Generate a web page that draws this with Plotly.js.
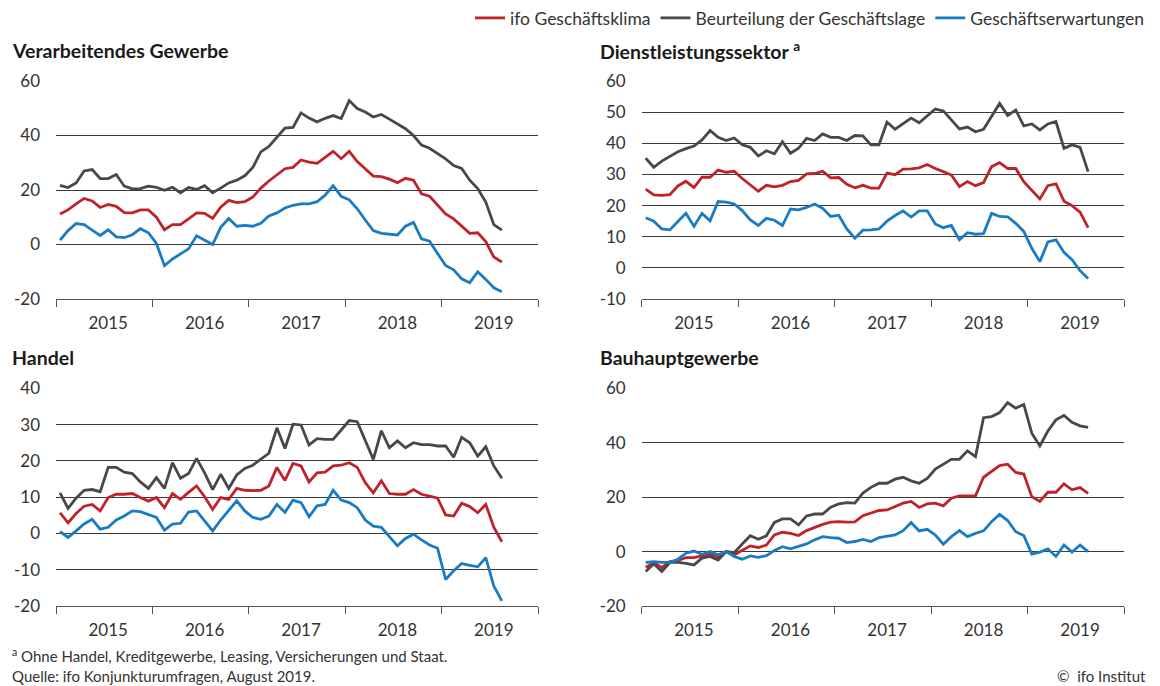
<!DOCTYPE html>
<html>
<head>
<meta charset="utf-8">
<script src="https://cdn.plot.ly/plotly-3.0.1.min.js"></script>
<style>
  html, body { margin: 0; padding: 0; background: #fff; }
  #chart { width: 1160px; height: 686px; }
</style>
</head>
<body>
<div id="chart"></div>
<script>
// ---- Data (monthly, Jan 2015 – Aug 2019) ----
const seriesNames = ['ifo Geschäftsklima', 'Beurteilung der Geschäftslage', 'Geschäftserwartungen'];
const panelTitles = ['Verarbeitendes Gewerbe', 'Dienstleistungssektor <sup>a</sup>', 'Handel', 'Bauhauptgewerbe'];
const yearLabels = ['2015', '2016', '2017', '2018', '2019'];

// Verarbeitendes Gewerbe
const vgKlima = [11.2,12.7,14.9,16.9,16,13.6,14.7,14,11.7,11.6, 12.7,12.7,10,5.4,7.3,7.3,9.4,11.6,11.4,9.6, 13.7,16.2,15.4,15.7,17.4,20.7,23.3,25.6,27.8,28.3, 31,30.2,29.8,32,34.2,31.5,34.2,30.4,27.9,25.1, 24.9,24,22.7,24.3,23.6,18.6,17.7,14.6,11.2,9.4, 6.7,4.1,4.3,1.1,-4.6,-6.4];
const vgLage = [21.7,20.9,22.6,27,27.5,24.2,24.2,25.7,21.4,20.4, 20.5,21.4,21,19.9,21,19,20.9,20.2,21.6,19, 20.7,22.6,23.6,25.2,28.3,34,36,39.4,42.7,43, 48.3,46.4,45,46.3,47.3,46.2,52.8,49.9,48.6,46.8, 47.7,46,44.2,42.5,40,36.5,35.3,33.5,31.4,29, 27.9,23.6,20.5,15.6,7.3,5.3];
const vgErw = [1.6,5.1,7.7,7.3,5.3,3.3,5.4,2.8,2.5,3.6, 5.8,4.3,0.4,-7.8,-5.3,-3.3,-1.6,3.2,1.6,0, 6.3,9.5,6.7,7,6.7,7.8,10.5,11.6,13.4,14.4, 14.9,14.9,15.7,18.1,21.6,17.7,16.4,13.1,9,5.1, 4.1,3.8,3.5,6.7,8.1,2.1,1.2,-3.3,-7.7,-9.3, -12.6,-14,-10,-12.8,-15.9,-17.3];

// Dienstleistungssektor
const dlKlima = [25.3,23.4,23.3,23.5,26.3,27.8,25.8,29.1,29.1,31.4, 30.7,31,28.7,26.6,24.6,26.5,26,26.5,27.7,28.1, 30.2,30.3,31,28.9,29,26.8,25.7,26.5,25.6,25.6, 30.4,29.9,31.7,31.8,32.1,33.2,31.9,30.9,29.8,26.1, 27.7,26.4,27.4,32.5,33.8,31.9,31.9,27.7,25,22.1, 26.4,27,21.4,20,17.9,12.9];
const dlLage = [35.2,32.3,34.3,35.9,37.3,38.3,39.1,41.1,44.1,41.9, 40.9,41.7,39.5,38.7,35.9,37.6,36.6,40.5,36.8,38.4, 41.6,40.9,43,41.9,41.9,40.9,42.5,42.4,39.5,39.5, 46.8,44.5,46.2,48.1,46.6,48.8,51,50.4,47.5,44.6, 45.2,43.7,44.5,48.6,52.8,48.9,50.7,45.6,46.2,44.3, 46.2,47,38.4,39.5,38.7,30.9];
const dlErw = [16.1,15,12.5,12.2,14.9,17.5,13.3,17.5,15.1,21.3, 21.1,20.5,18.4,15.4,13.6,15.9,15.3,13.6,18.9,18.6, 19.4,20.5,19.1,16.5,16.9,12.5,9.5,12.1,12.2,12.5, 15,16.8,18.3,16.3,18.3,18.3,14.1,12.9,13.6,9, 11.3,10.8,11,17.5,16.5,16.4,14.3,11.7,6.3,2, 8.3,9,5,2.6,-0.9,-3.4];

// Handel
const haKlima = [5.7,2.9,5.5,7.5,8,6.2,9.9,10.8,10.8,11, 9.9,8.9,9.9,7.1,11,9.4,11.3,13.1,10.1,6.6, 9.9,9.4,12.4,11.9,11.8,11.9,13.1,18.2,14.6,19.3, 18.6,14.2,16.7,16.9,18.6,18.8,19.5,18.2,14,11.2, 14.5,11,10.8,10.8,12.1,10.8,10.3,9.7,5.1,4.8, 8.3,7.4,5.7,8,1.7,-2.3];
const haLage = [11.2,6.9,9.7,11.9,12.1,11.5,18.2,18.2,16.9,16.5, 14.2,12.4,15.4,12.4,19.5,15.2,16.5,20.7,16.7,12.1, 16.3,12.4,16.1,17.9,18.8,20.4,22.1,29.1,23.4,30.1, 29.9,24.4,26.1,25.9,25.9,28.5,31.1,30.8,25.7,20.4, 28.3,23.6,25.5,23.6,25,24.5,24.5,24.1,24.1,21, 26.5,25,21.3,23.9,18.6,15.2];
const haErw = [0.5,-1.1,0.7,2.6,3.9,1.2,1.7,3.7,4.8,6.2, 6,5.1,4.4,0.9,2.6,2.8,5.9,6.2,3.5,0.7, 3.7,6.2,9,6.2,4.4,3.9,4.8,8,5.8,9.2, 8.5,4.6,7.6,8,11.9,9.2,8.5,7.1,3.7,2, 1.7,-0.9,-3.4,-1.4,-0.2,-1.8,-3.2,-4.1,-12.7,-10.3, -8.3,-8.8,-9.2,-6.7,-14.5,-18.6];

// Bauhauptgewerbe
const bhKlima = [-5.8,-4,-5.9,-3.7,-3.3,-2.2,-2.2,-1.5,-0.9,-2.1, 0,-1.2,0.6,2.1,1.5,2.4,6.1,7.1,6.7,5.9, 7.7,8.9,10,10.8,11,10.8,10.9,13.2,14.1,15.1, 15.3,16.5,17.8,18.4,16.2,17.5,17.8,16.8,19.6,20.5, 20.5,20.5,27.3,29.6,31.6,32.1,29.1,28.5,20.2,18.4, 21.8,21.8,24.9,22.7,23.5,21.4];
const bhLage = [-7.3,-4.5,-7.3,-4,-4,-4.3,-4.9,-2.4,-1.8,-3.1, 0,-0.4,2.8,5.8,4.5,5.8,10.7,12,12,9.8, 13.1,13.8,13.8,16.3,17.5,18,17.8,21.5,23.6,25.1, 25.1,26.6,27.3,26,25.1,26.9,30.3,32.1,33.9,33.9, 37,34.9,49.2,49.6,51.1,54.7,52.7,54.1,43.5,38.8, 44.3,48.4,50,47.5,46.2,45.6];
const bhErw = [-4,-3.7,-4,-4,-2.8,-0.6,0.2,-1,0,-1.2, 0,-1.8,-2.8,-1.6,-2.1,-1.5,0.4,1.8,1,1.8, 2.8,4.3,5.5,5.1,4.9,3.3,3.7,4.5,3.7,5.1, 5.5,6.1,7.7,10.7,7.6,8.2,6.1,2.7,5.5,7.7, 5.5,6.7,7.6,11,13.7,11.4,7.3,5.9,-0.9,-0.2, 1,-1.8,2.4,-0.2,2.4,0];

// y-axis ticks per panel
const vgTicks = [-20, 0, 20, 40, 60];
const dlTicks = [-10, 0, 10, 20, 30, 40, 50, 60];
const haTicks = [-20, -10, 0, 10, 20, 30, 40];
const bhTicks = [-20, 0, 20, 40, 60];

// ---- Build ----
const months = vgKlima.map((_, i) => i + 0.5); // month centre, 0 = Jan 2015
const yearCentres = yearLabels.map((_, k) => 12 * k + 6.5);

const colors = ['#c0222c', '#484848', '#1b7bc2'];
const FONT = 'Lato, "Source Sans Pro", "Noto Sans", sans-serif';
const TXT = '#333333';

const panels = [
  { series: [vgKlima, vgLage, vgErw], ticks: vgTicks },
  { series: [dlKlima, dlLage, dlErw], ticks: dlTicks },
  { series: [haKlima, haLage, haErw], ticks: haTicks },
  { series: [bhKlima, bhLage, bhErw], ticks: bhTicks }
];

const W = 1160, H = 686;
const xDom = [[56 / W, 538 / W], [641.7 / W, 1124.3 / W]];
const yDom = [[(H - 299) / H, (H - 81) / H], [(H - 606) / H, (H - 388.3) / H]];

const traces = [];
const layout = {
  width: W, height: H,
  margin: { l: 0, r: 0, t: 0, b: 0 },
  paper_bgcolor: '#ffffff', plot_bgcolor: '#ffffff',
  font: { family: FONT, size: 17, color: TXT },
  showlegend: true,
  legend: {
    orientation: 'h', x: 1150 / W, xanchor: 'right', y: 1, yanchor: 'top',
    font: { family: FONT, size: 17.5, color: TXT }, bgcolor: 'rgba(0,0,0,0)',
    itemwidth: 30, tracegroupgap: 0, traceorder: 'normal'
  },
  annotations: [],
  hovermode: false
};

panels.forEach((p, pi) => {
  const n = pi + 1;
  const xa = 'x' + (n === 1 ? '' : n), ya = 'y' + (n === 1 ? '' : n);
  p.series.forEach((s, si) => {
    traces.push({
      type: 'scatter', mode: 'lines', x: months, y: s, xaxis: xa, yaxis: ya,
      name: seriesNames[si], showlegend: pi === 0,
      line: { color: colors[si], width: 2.8, shape: 'linear' },
      hoverinfo: 'skip'
    });
  });
  const col = pi % 2, row = Math.floor(pi / 2);
  const ticks = p.ticks;
  layout['xaxis' + (n === 1 ? '' : n)] = {
    domain: xDom[col], anchor: ya, range: [0, 60], fixedrange: true,
    showgrid: false, zeroline: false,
    showline: true, linecolor: '#555555', linewidth: 1,
    tickmode: 'array', tickvals: yearCentres, ticktext: yearLabels, ticks: '',
    ticklabelstandoff: 9,
    tickfont: { family: FONT, size: 17, color: TXT },
    minor: { tick0: 0, dtick: 12, ticks: 'outside', ticklen: 7, tickcolor: '#555555', tickwidth: 1, showgrid: false }
  };
  layout['yaxis' + (n === 1 ? '' : n)] = {
    domain: yDom[row], anchor: xa, range: [ticks[0], ticks[ticks.length - 1]], fixedrange: true,
    showgrid: true, gridcolor: '#3a3a3a', gridwidth: 1, zeroline: false, showline: false,
    tickmode: 'array', tickvals: ticks, ticktext: ticks.map(String), ticks: '',
    ticklabelstandoff: 15,
    tickfont: { family: FONT, size: 17, color: TXT }
  };
});

const titlePos = [[10, 50], [598, 50], [10, 357], [598, 357]];
panelTitles.forEach((t, i) => {
  layout.annotations.push({
    xref: 'paper', yref: 'paper', x: titlePos[i][0] / W, y: 1 - titlePos[i][1] / H,
    xanchor: 'left', yanchor: 'middle', showarrow: false, text: '<b>' + t + '</b>',
    font: { family: FONT, size: 19.5, color: '#1a1a1a' }
  });
});
layout.annotations.push(
  { xref: 'paper', yref: 'paper', x: 10 / W, y: 1 - 655 / H, xanchor: 'left', yanchor: 'middle', showarrow: false,
    text: '<sup>a</sup> Ohne Handel, Kreditgewerbe, Leasing, Versicherungen und Staat.', font: { family: FONT, size: 15, color: TXT } },
  { xref: 'paper', yref: 'paper', x: 10 / W, y: 1 - 676 / H, xanchor: 'left', yanchor: 'middle', showarrow: false,
    text: 'Quelle: ifo Konjunkturumfragen, August 2019.', font: { family: FONT, size: 15, color: TXT } },
  { xref: 'paper', yref: 'paper', x: 1148 / W, y: 1 - 676 / H, xanchor: 'right', yanchor: 'middle', showarrow: false,
    text: '©  ifo Institut', font: { family: FONT, size: 15, color: TXT } }
);

Plotly.newPlot('chart', traces, layout, { displayModeBar: false, staticPlot: true });
</script>
</body>
</html>
